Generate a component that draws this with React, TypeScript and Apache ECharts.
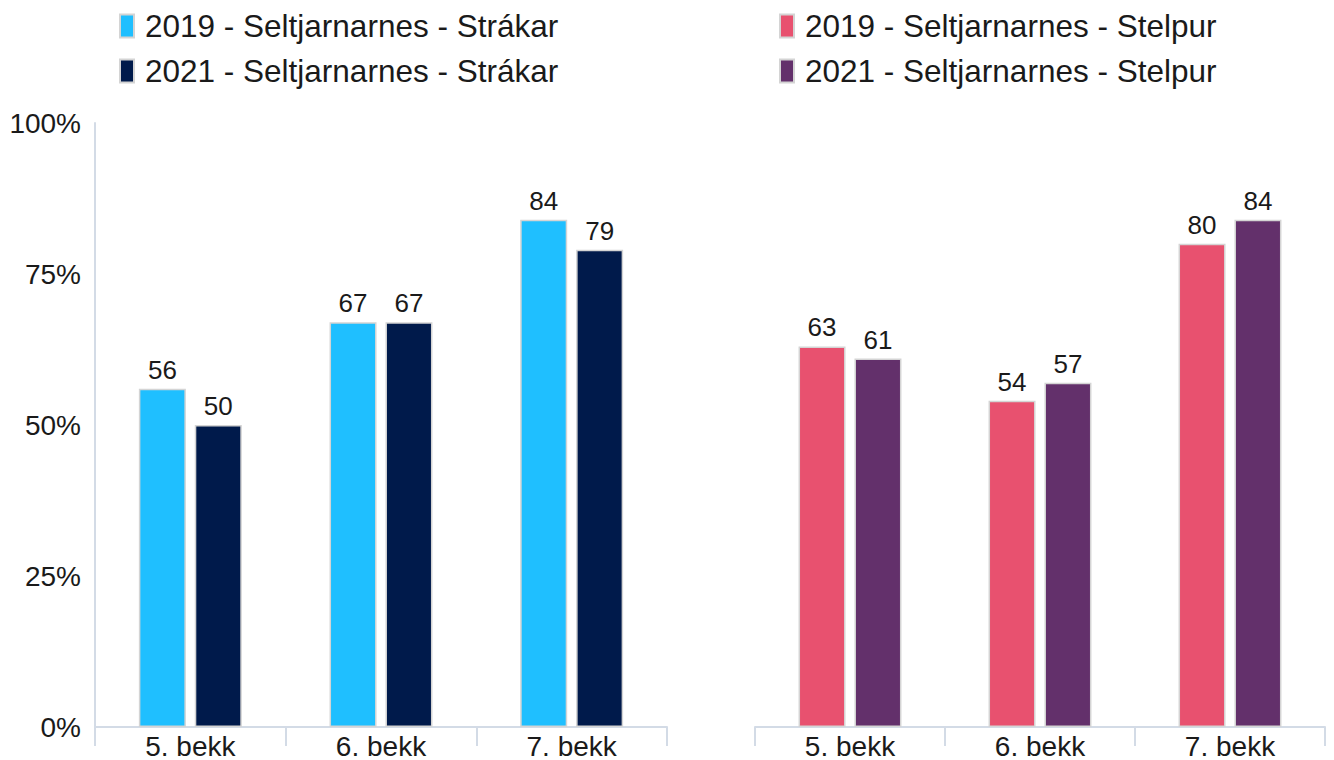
import React, { useEffect, useRef } from "react";
import * as echarts from "echarts";

const categories = ["5. bekk", "6. bekk", "7. bekk"];
const boys2019 = [56, 67, 84];
const boys2021 = [50, 67, 79];
const girls2019 = [63, 54, 80];
const girls2021 = [61, 57, 84];
const seriesNames = [
  "2019 - Seltjarnarnes - Strákar",
  "2021 - Seltjarnarnes - Strákar",
  "2019 - Seltjarnarnes - Stelpur",
  "2021 - Seltjarnarnes - Stelpur",
];
const colors = ["#1fbfff", "#001a4b", "#e8516f", "#63306b"];
const yTicks = { min: 0, max: 100, interval: 25 };

const FONT = "'Liberation Sans', Arial, sans-serif";
const TEXT = "#1a1a1a";
const AXIS = "#d3dbe6";

export default function App() {
  const ref = useRef<HTMLDivElement>(null);
  useEffect(() => {
    if (!ref.current) return;
    const chart = echarts.init(ref.current, null, { renderer: "svg" });
    const legendPos = [
      { left: 114, top: 5 },
      { left: 114, top: 50 },
      { left: 774, top: 5 },
      { left: 774, top: 50 },
    ];
    const xAxisBase = (gridIndex: number) => ({
      type: "category",
      gridIndex,
      data: categories,
      axisLine: { lineStyle: { color: AXIS, width: 2 } },
      axisTick: { show: true, length: 19, lineStyle: { color: AXIS, width: 2 } },
      axisLabel: { color: TEXT, fontSize: 28, fontFamily: FONT, margin: 5 },
    });
    const yAxisBase = (gridIndex: number, show: boolean) => ({
      type: "value",
      gridIndex,
      min: yTicks.min,
      max: yTicks.max,
      interval: yTicks.interval,
      splitLine: { show: false },
      axisLine: { show: show, lineStyle: { color: AXIS, width: 2 } },
      axisTick: { show: false },
      axisLabel: {
        show: show,
        formatter: "{value}%",
        color: TEXT,
        fontSize: 28,
        fontFamily: FONT,
        margin: 14,
      },
    });
    const seriesData = [boys2019, boys2021, girls2019, girls2021];
    const series = seriesData.map((d, i) => ({
      type: "bar",
      name: seriesNames[i],
      xAxisIndex: i < 2 ? 0 : 1,
      yAxisIndex: i < 2 ? 0 : 1,
      data: d,
      barWidth: 47,
      barGap: "19%",
      itemStyle: { color: colors[i], borderColor: "#d4d4d4", borderWidth: 1.5 },
      label: {
        show: true,
        position: "top",
        distance: 6,
        color: TEXT,
        fontSize: 26,
        fontFamily: FONT,
      },
    }));
    chart.setOption({
      animation: false,
      legend: seriesNames.map((n, i) => ({
        data: [n],
        left: legendPos[i].left,
        top: legendPos[i].top,
        icon: "rect",
        itemWidth: 14,
        itemHeight: 23,
        selectedMode: false,
        textStyle: {
          color: TEXT,
          fontSize: 31.5,
          fontFamily: FONT,
          padding: [0, 0, 0, 6],
        },
      })),
      grid: [
        { left: 95, right: 1334 - 667, top: 123, bottom: 27 },
        { left: 755, right: 9, top: 123, bottom: 27 },
      ],
      xAxis: [xAxisBase(0), xAxisBase(1)],
      yAxis: [yAxisBase(0, true), yAxisBase(1, false)],
      series,
    });
    return () => chart.dispose();
  }, []);
  return (
    <div
      ref={ref}
      style={{ width: 1334, height: 760, position: "absolute", left: 0, top: 0, background: "#fff" }}
    />
  );
}
